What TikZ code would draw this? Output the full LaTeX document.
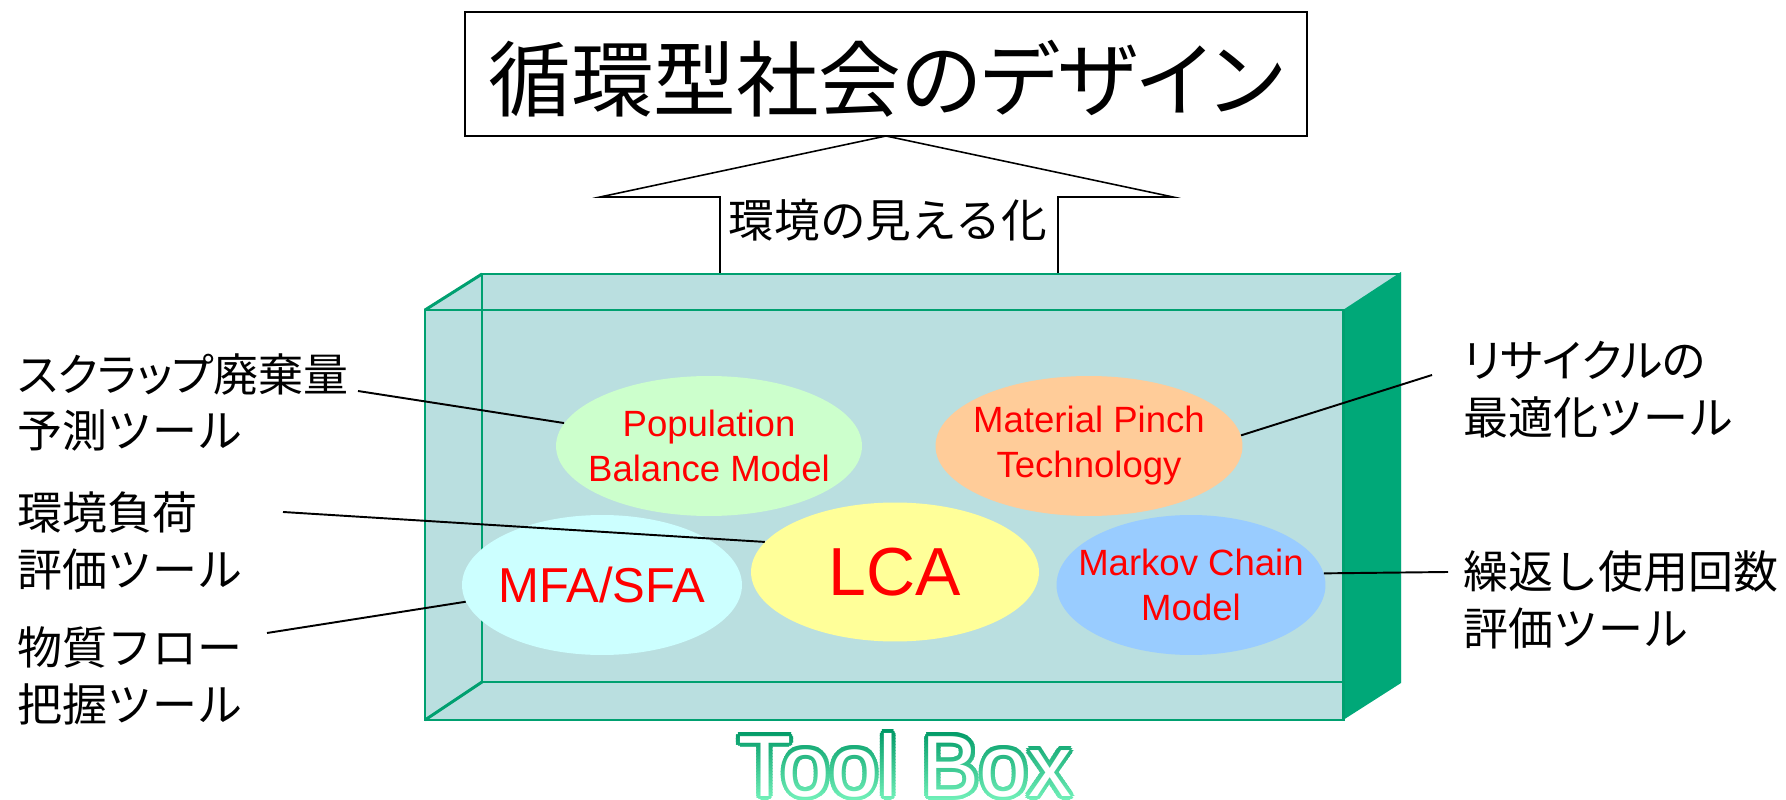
\documentclass[tikz,border=0pt]{standalone}
\usepackage{fontspec}
\usetikzlibrary{shapes.geometric}
\newfontfamily\jpfont{Noto Sans CJK JP}
\newfontfamily\jpp[RawFeature=+palt]{Noto Sans CJK JP}
\newfontfamily\lafont{Liberation Sans}

\definecolor{boxfill}{HTML}{BADFE0}
\definecolor{boxedge}{HTML}{00A070}
\definecolor{sidegreen}{HTML}{00A878}
\definecolor{pbmcol}{HTML}{CCFFCC}
\definecolor{mptcol}{HTML}{FFCC99}
\definecolor{mfacol}{HTML}{CCFFFF}
\definecolor{lcacol}{HTML}{FFFF99}
\definecolor{mkvcol}{HTML}{99CCFF}
\definecolor{tbdark}{HTML}{009966}
\definecolor{tblight}{HTML}{70F0B8}

\tikzset{
  edgeline/.style={draw=boxedge, line width=1.7pt},
  tool/.style={ellipse, inner sep=0pt, draw=none},
  tooltext/.style={font=\lafont\fontsize{20.8}{25.6}\selectfont, text=red, align=center, inner sep=0pt},
  jplabel/.style={font=\jpfont\fontsize{25.6}{32.4}\selectfont, align=left, inner sep=0pt, anchor=west},
  leader/.style={draw=black, line width=1.1pt},
  tbtext/.style={font=\lafont\fontsize{49.5}{52}\selectfont, anchor=base, inner sep=0pt}
}

\begin{document}
\begin{tikzpicture}[x=0.02cm, y=-0.02cm]
\useasboundingbox (0,0) rectangle (1786,800);
\fill[white] (0,0) rectangle (1786,800);

% title frame and text
\node[draw=black, line width=1.4pt, minimum width=16.84cm, minimum height=2.48cm, inner sep=0pt] (frame) at (886,74) {};
\node[font=\jpp\fontsize{47}{50}\selectfont, inner sep=0pt] (title) at (886,79) {循環型社会のデザイン};

% upward block arrow
\fill[white] (720,274) -- (720,197) -- (600,197) -- (886,136) -- (1173,197) -- (1058,197) -- (1058,274) -- cycle;
\draw[black, line width=0.9pt] (720,274) -- (720,197) -- (600,197) -- (886,136) -- (1173,197) -- (1058,197) -- (1058,274);
\node[font=\jpfont\fontsize{26}{28}\selectfont, inner sep=0pt] (visual) at (888,220) {環境の見える化};

% the tool box
\fill[boxfill] (425,310) -- (482,274) -- (1401,274) -- (1401,682) -- (1343,720) -- (425,720) -- cycle;
\draw[edgeline] (482,682) -- (482,274) -- (1401,274);
\draw[edgeline] (482,682) -- (1343,682);
\fill[sidegreen] (1343,310) -- (1401,272) -- (1401,683) -- (1343,720) -- cycle;
\draw[edgeline] (425,310) rectangle (1343,720);
\draw[edgeline] (425,310) -- (482,274);
\draw[edgeline] (425,720) -- (482,682);

% tools inside the box
\node[tool, fill=pbmcol, minimum width=6.12cm, minimum height=2.8cm,
      label={[tooltext]center:Population\\Balance Model}] (pbm) at (709,446) {};
\node[tool, fill=mptcol, minimum width=6.14cm, minimum height=2.8cm,
      label={[tooltext]center:Material Pinch\\Technology}] (mpt) at (1089,446) {};
\node[tool, fill=mfacol, minimum width=5.6cm, minimum height=2.8cm,
      label={[tooltext, font=\lafont\fontsize{27.9}{30}\selectfont]center:MFA/SFA}] (mfa) at (602,585) {};
\node[tool, fill=lcacol, minimum width=5.76cm, minimum height=2.78cm,
      label={[tooltext, font=\lafont\fontsize{38.7}{40}\selectfont]center:LCA}] (lca) at (895,572) {};
\node[tool, fill=mkvcol, minimum width=5.38cm, minimum height=2.8cm,
      label={[tooltext]center:Markov Chain\\Model}] (mkv) at (1191,585) {};

% side labels
\node[jplabel] (scrap) at (17,402.5) {{\jpp スクラップ}廃棄量\\予測ツール};
\node[jplabel] (load) at (17,540.5) {環境負荷\\評価ツール};
\node[jplabel] (flow) at (17,675.5) {物質フロー\\把握ツール};
\node[jplabel] (recyc) at (1463,390) {{\jpp リサイクルの}\\最適化ツール};
\node[jplabel] (reuse) at (1463,599.5) {繰返し使用回数\\評価ツール};

% leader lines
\coordinate (c1) at (358,391);
\coordinate (c2) at (283,512);
\coordinate (c3) at (267,633);
\coordinate (c4) at (1432,375);
\coordinate (c5) at (1448,572);
\draw[leader] (c1) -- (pbm.171);
\draw[leader] (c2) -- (lca.167);
\draw[leader] (c3) -- (mfa.187.5);
\draw[leader] (c4) -- (mpt.4);
\draw[leader] (c5) -- (mkv.5);

% outlined caption with a vertical colour gradient
\foreach \i in {0,...,23} {
  \pgfmathsetmacro\pc{100-\i*100/23}
  \begin{scope}
    \clip (700,{729+3*\i}) rectangle (1110,{732.3+3*\i});
    \foreach \a in {0,30,...,330}
      \path (905,796) ++(\a:4) node[tbtext, text=tbdark!\pc!tblight] {Tool Box};
  \end{scope}
}
\node[tbtext, text=white] (toolbox) at (905,796) {Tool Box};
\end{tikzpicture}
\end{document}
